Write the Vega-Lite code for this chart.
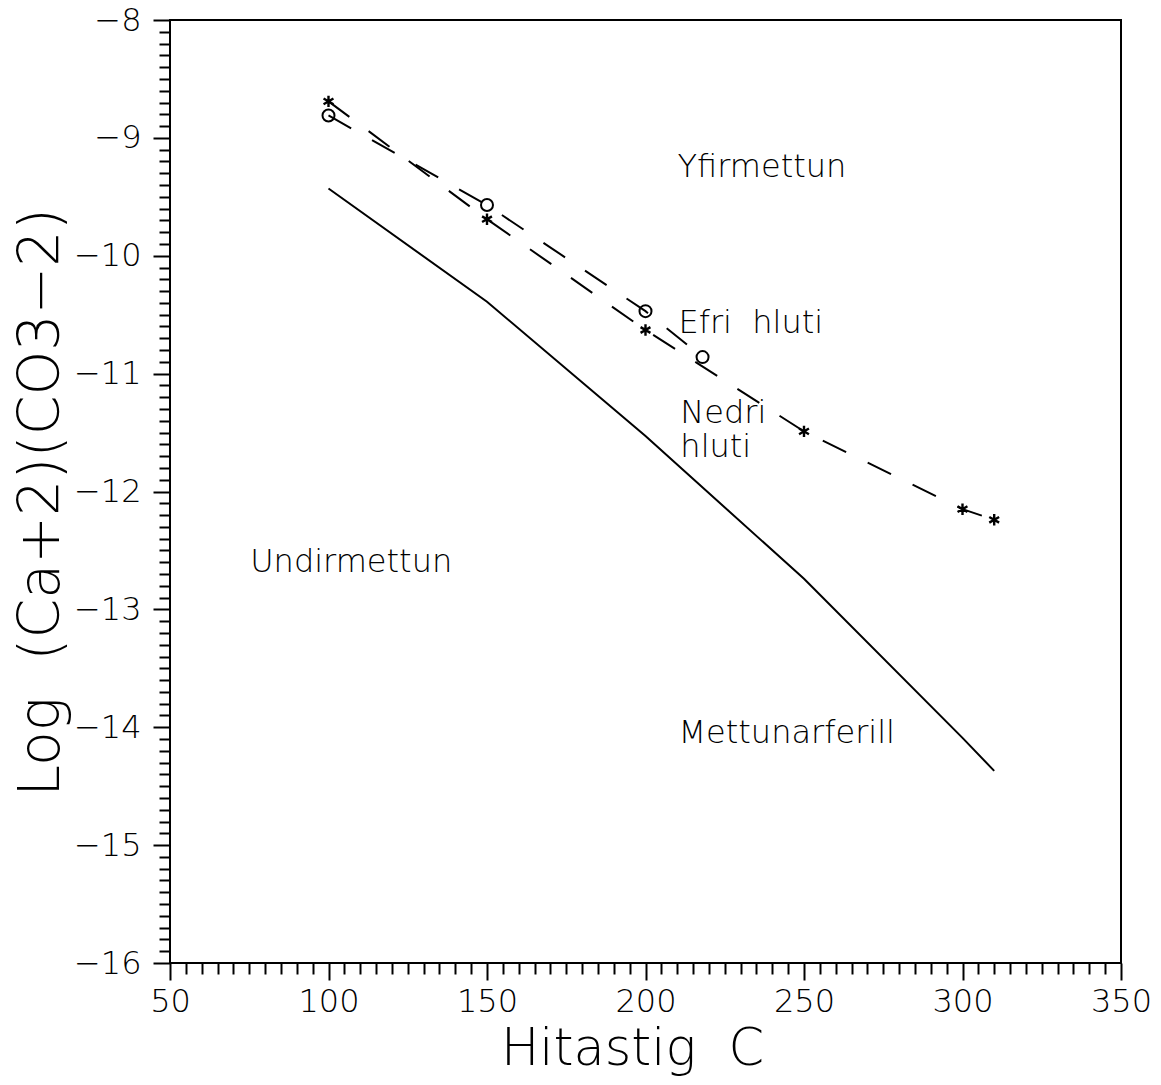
{
  "$schema": "https://vega.github.io/schema/vega-lite/v6.json",
  "width": 951,
  "height": 943,
  "autosize": "none",
  "padding": {"left": 170, "top": 20, "right": 40, "bottom": 122},
  "background": "white",
  "config": {
    "view": {"stroke": "black", "strokeWidth": 2},
    "font": "DejaVu Sans",
    "axis": {
      "domain": false,
      "tickColor": "black",
      "tickWidth": 2,
      "labelColor": "black",
      "titleColor": "black",
      "labelFont": "DejaVu Sans",
      "titleFont": "DejaVu Sans",
      "labelFontWeight": 200,
      "titleFontWeight": 200,
      "grid": false,
      "labelOverlap": false,
      "labelBound": false,
      "labelFlush": false
    }
  },
  "datasets": {
    "curve": [
      {"x": 100, "y": -9.43},
      {"x": 150, "y": -10.39},
      {"x": 200, "y": -11.53},
      {"x": 250, "y": -12.74},
      {"x": 300, "y": -14.09},
      {"x": 310, "y": -14.37}
    ],
    "series": [
      {"group": "efri", "x": 100, "y": -8.81},
      {"group": "efri", "x": 150, "y": -9.57},
      {"group": "efri", "x": 200, "y": -10.47},
      {"group": "efri", "x": 218, "y": -10.86},
      {"group": "nedri", "x": 100, "y": -8.69},
      {"group": "nedri", "x": 150, "y": -9.69},
      {"group": "nedri", "x": 200, "y": -10.63},
      {"group": "nedri", "x": 250, "y": -11.49},
      {"group": "nedri", "x": 300, "y": -12.15},
      {"group": "nedri", "x": 310, "y": -12.24}
    ],
    "labels": [
      {"label": "Yfirmettun", "x": 210.1, "y": -9.33},
      {"label": "Efri\u00a0 hluti", "x": 210.4, "y": -10.655},
      {"label": "Nedri", "x": 211, "y": -11.42},
      {"label": "hluti", "x": 211, "y": -11.71},
      {"label": "Undirmettun", "x": 75.3, "y": -12.68},
      {"label": "Mettunarferill", "x": 210.4, "y": -14.13}
    ]
  },
  "encoding": {
    "x": {
      "field": "x",
      "type": "quantitative",
      "scale": {"domain": [50, 350], "nice": false, "zero": false},
      "axis": {
        "title": "Hitastig\u00a0 C",
        "titleFontSize": 51,
        "titleX": 462,
        "titleY": 101,
        "titleAlign": "center",
        "titleBaseline": "alphabetic",
        "values": [50,55,60,65,70,75,80,85,90,95,100,105,110,115,120,125,130,135,140,145,150,155,160,165,170,175,180,185,190,195,200,205,210,215,220,225,230,235,240,245,250,255,260,265,270,275,280,285,290,295,300,305,310,315,320,325,330,335,340,345,350],
        "labelExpr": "datum.value % 50 == 0 ? format(datum.value, 'd') : ''",
        "labelFontSize": 32,
        "labelPadding": 6,
        "tickSize": {"condition": {"test": "datum.value % 50 == 0", "value": 17}, "value": 11}
      }
    },
    "y": {
      "field": "y",
      "type": "quantitative",
      "scale": {"domain": [-16, -8], "nice": false, "zero": false},
      "axis": {
        "title": "Log\u00a0 (Ca+2)(CO3−2)",
        "titleFontSize": 57,
        "titleX": -129,
        "titleY": 482,
        "titleAngle": 270,
        "titleAlign": "center",
        "titleBaseline": "middle",
        "values": [-16,-15.9,-15.8,-15.7,-15.6,-15.5,-15.4,-15.3,-15.2,-15.1,-15,-14.9,-14.8,-14.7,-14.6,-14.5,-14.4,-14.3,-14.2,-14.1,-14,-13.9,-13.8,-13.7,-13.6,-13.5,-13.4,-13.3,-13.2,-13.1,-13,-12.9,-12.8,-12.7,-12.6,-12.5,-12.4,-12.3,-12.2,-12.1,-12,-11.9,-11.8,-11.7,-11.6,-11.5,-11.4,-11.3,-11.2,-11.1,-11,-10.9,-10.8,-10.7,-10.6,-10.5,-10.4,-10.3,-10.2,-10.1,-10,-9.9,-9.8,-9.7,-9.6,-9.5,-9.4,-9.3,-9.2,-9.1,-9,-8.9,-8.8,-8.7,-8.6,-8.5,-8.4,-8.3,-8.2,-8.1,-8],
        "labelExpr": "abs(datum.value - round(datum.value)) < 0.001 ? '−' + format(abs(datum.value), 'd') : ''",
        "labelFontSize": 32,
        "labelPadding": 12,
        "tickSize": {"condition": {"test": "abs(datum.value - round(datum.value)) < 0.001", "value": 17}, "value": 11}
      }
    }
  },
  "layer": [
    {
      "data": {"name": "curve"},
      "mark": {"type": "line", "color": "black", "strokeWidth": 2}
    },
    {
      "data": {"name": "series"},
      "mark": {"type": "line", "color": "black", "strokeWidth": 2, "strokeDash": [26, 24]},
      "encoding": {"detail": {"field": "group"}}
    },
    {
      "data": {"name": "series"},
      "transform": [{"filter": "datum.group == 'efri'"}],
      "mark": {"type": "point", "shape": "circle", "filled": false, "stroke": "black", "strokeWidth": 2, "size": 144, "opacity": 1}
    },
    {
      "data": {"name": "series"},
      "transform": [{"filter": "datum.group == 'nedri'"}],
      "mark": {"type": "point", "shape": "M0,-1L0,1M-0.866,-0.5L0.866,0.5M-0.866,0.5L0.866,-0.5", "filled": false, "stroke": "black", "strokeWidth": 2.4, "size": 130, "opacity": 1}
    },
    {
      "data": {"name": "labels"},
      "mark": {"type": "text", "align": "left", "baseline": "alphabetic", "fontSize": 32, "font": "DejaVu Sans", "fontWeight": 200, "color": "black"},
      "encoding": {"text": {"field": "label"}}
    }
  ]
}
